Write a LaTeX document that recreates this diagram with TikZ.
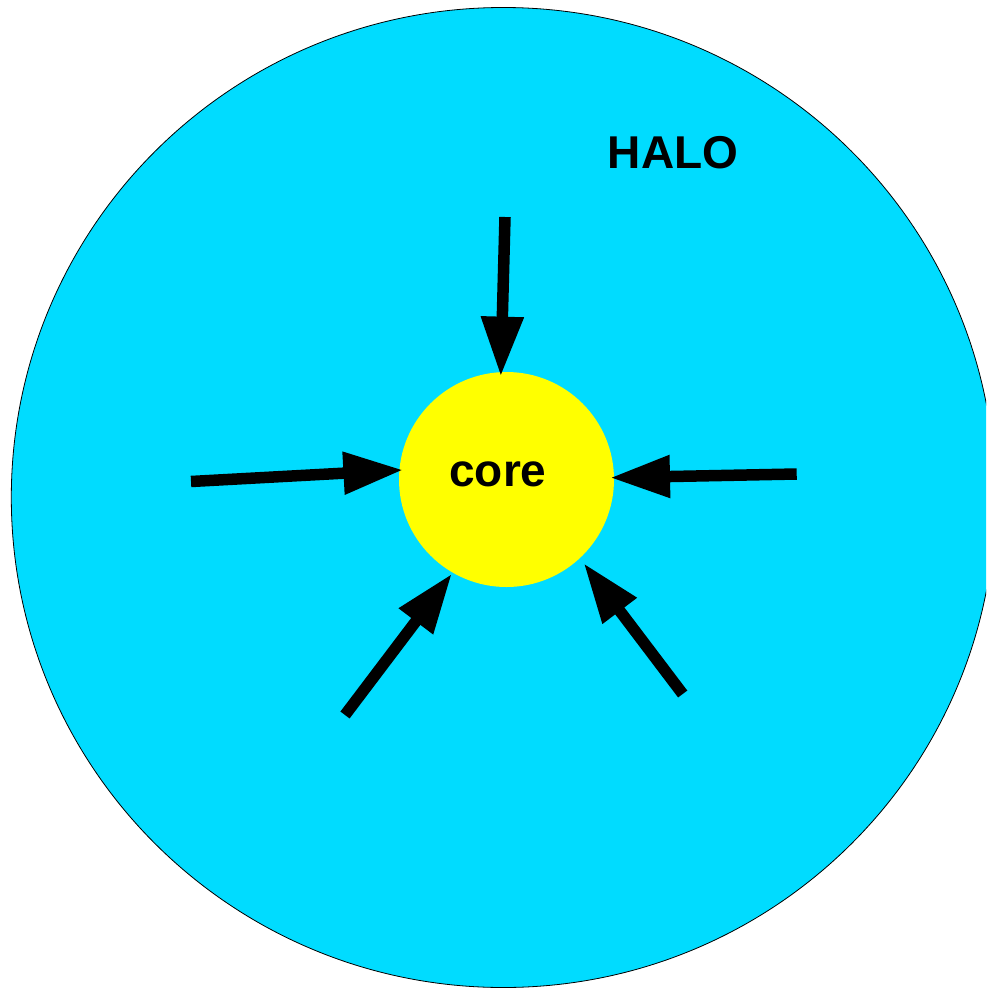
\documentclass[tikz,border=0pt]{standalone}
\usepackage{fontspec}
\setmainfont{Liberation Sans}
\usetikzlibrary{arrows.meta,shapes.geometric}
\definecolor{halocyan}{RGB}{0,220,255}
\definecolor{coreyellow}{RGB}{255,255,0}
\tikzset{
  flow/.style={line width=11.5pt, line cap=butt, -{Triangle[length=60pt,width=40pt]}},
  label/.style={font=\fontsize{46}{50}\selectfont\bfseries, inner sep=0pt, anchor=base}
}
\begin{document}
\begin{tikzpicture}[x=1pt,y=-1pt]
\useasboundingbox (0,0) rectangle (986,988);
\clip (0,0) rectangle (986,988);
\node[ellipse, draw=black, line width=0.8pt, fill=halocyan, minimum width=984pt, minimum height=980pt, inner sep=0pt] (halo) at (503.3,497.5) {};
\node[circle, fill=coreyellow, minimum size=215pt, inner sep=0pt, outer sep=0pt] (core) at (506.5,479.5) {};
\node[label] (coretext) at (498,486) {core};
\node[label] (halotext) at (673,168) {HALO};
\coordinate (tTop) at (505,217);
\coordinate (tLeft) at (191,481.5);
\coordinate (tRight) at (796.7,474);
\coordinate (tLL) at (345,715);
\coordinate (tLR) at (682.7,694);
\draw[flow, shorten >=-4.5pt] (tTop) -- (core.93);
\draw[flow, shorten >=-4pt] (tLeft) -- (core.175.7);
\draw[flow, shorten >=-4pt] (tRight) -- (core.1.9);
\draw[flow, shorten >=1.2pt] (tLL) -- (core.240.3);
\draw[flow, shorten >=6.2pt] (tLR) -- (core.313.7);
\end{tikzpicture}
\end{document}
